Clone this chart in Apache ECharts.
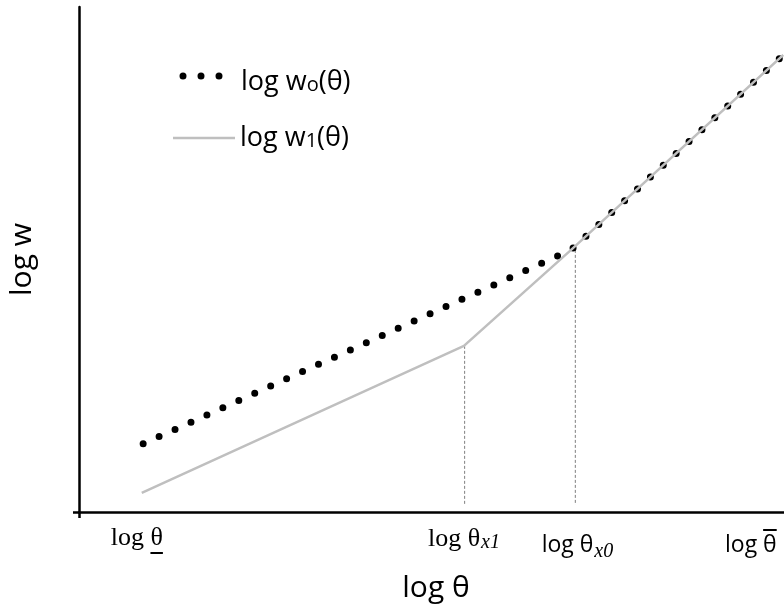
<!DOCTYPE html>
<html><head><meta charset="utf-8">
<script src="https://cdn.jsdelivr.net/npm/echarts@6/dist/echarts.min.js"></script>
<style>html,body{margin:0;padding:0;background:#fff}#c{width:784px;height:612px}</style>
</head><body><div id="c"></div>
<script>
// Conceptual chart: values in abstract axis units (0..10 on both axes)
const seriesNames = ['log w\u2092(\u03b8)', 'log w\u2081(\u03b8)'];
const legendLabels = ['{a|log w}{b|o}{a|(\u03b8)}', '{a|log w}{b|1}{a|(\u03b8)}'];
const w0X = [0.91, 6.98, 9.99];
const w0Y = [1.35, 5.19, 9.05];
const w1X = [0.89, 5.46, 6.98, 9.99];
const w1Y = [0.38, 3.29, 5.19, 9.05];
const dropX = [5.47, 7.04];
const dropTop = [3.29, 5.19];
const dropBottom = 0.14;
const tickValues = [0.82, 5.46, 7.07, 9.53];
const tickLabels = [
  '{u|log }{u|\u03b8}\n{ug|log }{ub|\u03b8}',
  '{s|log \u03b8}{si|x1}',
  '{n|log \u03b8}{ni|x0}',
  '{og|log }{ob|\u03b8}\n{o|log \u03b8}'
];

const chart = echarts.init(document.getElementById('c'), null, {renderer: 'canvas'});
const zip = (xs, ys) => xs.map((x, i) => [x, ys[i]]);
const dropSeries = dropX.map((x, i) => ({
  type: 'line', silent: true, symbol: 'none', z: 1,
  data: [[x, dropTop[i]], [x, dropBottom]],
  lineStyle: {color: '#7f7f7f', width: 1, type: [3, 2]}
}));
const SERIF = 'Liberation Serif', SANS = 'Open Sans';
const ghost = 'rgba(0,0,0,0)';
const legendRich = {
  a: {fontFamily: SANS, fontSize: 27, color: '#000'},
  b: {fontFamily: SANS, fontSize: 20, color: '#000', verticalAlign: 'middle', padding: [6, 0, 0, 0]}
};

chart.setOption({
  animation: false,
  backgroundColor: '#fff',
  grid: {left: 79, right: 0, top: 7, bottom: 100, containLabel: false, outerBoundsMode: 'none'},
  legend: [
    {data: [seriesNames[0]], left: 174.5, top: 63.5, itemWidth: 43, itemHeight: 7, selectedMode: false,
     icon: 'path://M0,3.5a3.5,3.5 0 1,0 7,0a3.5,3.5 0 1,0 -7,0ZM18,3.5a3.5,3.5 0 1,0 7,0a3.5,3.5 0 1,0 -7,0ZM36,3.5a3.5,3.5 0 1,0 7,0a3.5,3.5 0 1,0 -7,0Z',
     itemStyle: {borderWidth: 0},
     formatter: () => legendLabels[0],
     textStyle: {color: '#000', padding: [12, 0, 0, 13.5], rich: legendRich}},
    {data: [seriesNames[1]], left: 168, top: 119.5, itemWidth: 62, itemHeight: 2.5, selectedMode: false,
     icon: 'path://M0,0H62V2.5H0Z',
     itemStyle: {borderWidth: 0},
     formatter: () => legendLabels[1],
     textStyle: {color: '#000', rich: legendRich}}
  ],
  xAxis: {
    type: 'value', min: 0, max: 10,
    name: 'log \u03b8', nameLocation: 'middle', nameGap: 61,
    nameTextStyle: {fontFamily: SANS, fontSize: 30, color: '#000', padding: [0, 0, 0, 9]},
    axisLine: {show: true, lineStyle: {color: '#000', width: 2.5}},
    axisTick: {show: true, customValues: [0], length: 6, lineStyle: {color: '#000', width: 2.5}},
    splitLine: {show: false},
    axisLabel: {
      show: true, customValues: tickValues, margin: 12, hideOverlap: false,
      formatter: v => tickLabels[tickValues.indexOf(v)] || '',
      rich: {
        u: {fontFamily: SERIF, fontSize: 26, color: '#000', lineHeight: 28},
        ug: {fontFamily: SERIF, fontSize: 26, color: ghost, lineHeight: 2, height: 2},
        ub: {fontFamily: SERIF, fontSize: 26, color: ghost, lineHeight: 2, height: 2, backgroundColor: '#000'},
        s: {fontFamily: SERIF, fontSize: 26, color: '#000', lineHeight: 30},
        si: {fontFamily: SERIF, fontStyle: 'italic', fontSize: 20, color: '#000', lineHeight: 30, verticalAlign: 'middle', padding: [8, 0, 0, 1]},
        n: {fontFamily: SANS, fontSize: 23, color: '#000', lineHeight: 42},
        ni: {fontFamily: SERIF, fontStyle: 'italic', fontSize: 20, color: '#000', lineHeight: 42, verticalAlign: 'middle', padding: [14, 0, 0, 1]},
        og: {fontFamily: SANS, fontSize: 23, color: ghost, lineHeight: 7, height: 2, verticalAlign: 'bottom'},
        ob: {fontFamily: SANS, fontSize: 23, color: ghost, lineHeight: 7, height: 2, verticalAlign: 'bottom', backgroundColor: '#000'},
        o: {fontFamily: SANS, fontSize: 23, color: '#000', lineHeight: 28}
      }
    }
  },
  yAxis: {
    type: 'value', min: 0, max: 10,
    name: 'log w', nameLocation: 'middle', nameGap: 42, nameRotate: 90,
    nameTextStyle: {fontFamily: SANS, fontSize: 30, color: '#000'},
    axisLine: {show: true, lineStyle: {color: '#000', width: 2.5}},
    axisTick: {show: true, customValues: [0], length: 6, lineStyle: {color: '#000', width: 2.5}},
    splitLine: {show: false},
    axisLabel: {show: false}
  },
  series: [
    ...dropSeries,
    {name: seriesNames[0], type: 'line', symbol: 'none', z: 2,
     data: zip(w0X, w0Y),
     lineStyle: {color: '#000', width: 7, type: [0, 17.5], cap: 'round'},
     itemStyle: {color: '#000'}},
    {name: seriesNames[1], type: 'line', symbol: 'none', z: 3,
     data: zip(w1X, w1Y),
     lineStyle: {color: '#bfbfbf', width: 2.5},
     itemStyle: {color: '#bfbfbf'}}
  ]
});
</script></body></html>
